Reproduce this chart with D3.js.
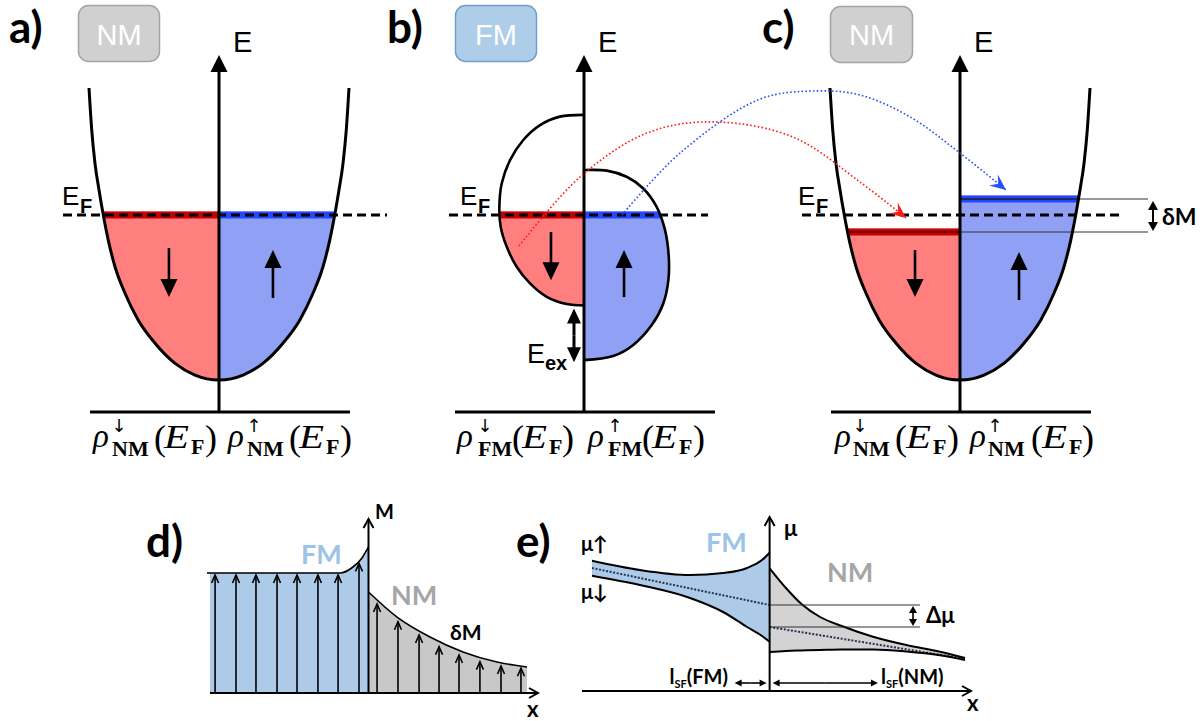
<!DOCTYPE html>
<html>
<head>
<meta charset="utf-8">
<title>Spin injection across an FM/NM interface</title>
<script src="https://cdn.jsdelivr.net/npm/d3@7"></script>
<style>
  html, body { margin: 0; padding: 0; background: #fff; }
  svg { display: block; }
</style>
</head>
<body>
<svg id="fig" width="1203" height="721"></svg>
<script>
// ================= data =================
// Panels a–c: free-electron band, density of states (rho) vs energy.
// Energy runs from the band bottom (0) to the top of the drawn band (1).
const bandE   = [0, 0.017, 0.057, 0.126, 0.205, 0.297, 0.388, 0.479, 0.565, 0.651, 0.742, 0.856, 1];
const bandRho = [0, 0.185, 0.338, 0.492, 0.621, 0.723, 0.800, 0.852, 0.890, 0.923, 0.954, 0.979, 1];
const fermiE  = 0.565;

// Panel b: exchange-split ferromagnet DOS (spin-down lobe on the left, spin-up on the right)
const fmDownE   = [0.908, 0.902, 0.873, 0.822, 0.753, 0.673, 0.593, 0.525, 0.457, 0.388, 0.331, 0.285, 0.260, 0.255];
const fmDownRho = [0, 0.185, 0.338, 0.467, 0.569, 0.633, 0.651, 0.641, 0.595, 0.518, 0.415, 0.287, 0.133, 0];
const fmUpE     = [0.719, 0.717, 0.696, 0.656, 0.593, 0.514, 0.422, 0.342, 0.262, 0.188, 0.120, 0.082, 0.068];
const fmUpRho   = [0, 0.175, 0.328, 0.456, 0.559, 0.623, 0.652, 0.649, 0.610, 0.521, 0.379, 0.225, 0];

// Panel c: spin-split quasi-Fermi levels in the normal metal
const nmUpE   = 0.620;
const nmDownE = 0.507;

// Spin arrows inside the filled states: [rho, E start, E end]
const spinArrowsA = [[-0.385, 0.452, 0.284], [0.415, 0.281, 0.445]];
const spinArrowsB = [[-0.254, 0.507, 0.342], [0.308, 0.284, 0.445]];
const spinArrowsC = [[-0.346, 0.445, 0.284], [0.454, 0.274, 0.438]];

// Electron transfer FM -> NM, in panel-b DOS units
const hopDownRho = [-0.50, -0.031, 0.485, 0.992, 1.608, 2.123, 2.477];
const hopDownE   = [0.459, 0.695, 0.846, 0.884, 0.832, 0.678, 0.555];
const hopUpRho   = [0.292, 0.738, 1.354, 1.792, 2.123, 2.508, 2.892, 3.246];
const hopUpE     = [0.565, 0.777, 0.962, 0.990, 0.976, 0.901, 0.777, 0.651];

// Panel d: magnetisation profile, interface at x = 0
const magFMx = [-1, -0.5, -0.18, -0.098, -0.041, 0];
const magFM  = [1, 1, 1, 1.05, 1.125, 1.217];
const magNMx = [0, 0.18, 0.388, 0.596, 0.811, 1];
const magNM  = [0.842, 0.633, 0.467, 0.342, 0.258, 0.217];
const momentX = [-0.968, -0.836, -0.710, -0.577, -0.451, -0.319, -0.192, -0.060,
                  0.054, 0.186, 0.319, 0.445, 0.571, 0.703, 0.836, 0.962];
const momentM = [0.983, 0.983, 0.983, 0.983, 0.983, 0.983, 0.983, 1.08,
                 0.742, 0.594, 0.483, 0.386, 0.317, 0.261, 0.225, 0.206];

// Panel e: spin-resolved electrochemical potentials
const muFMx    = [-1, -0.73, -0.448, -0.262, -0.127, -0.043, 0];
const muUpFM   = [1.303, 1.21, 1.16, 1.18, 1.23, 1.31, 1.383];
const muDownFM = [1.153, 1.06, 0.93, 0.79, 0.64, 0.55, 0.493];
const muNMx    = [0, 0.092, 0.181, 0.284, 0.406, 0.582, 0.770, 0.959, 1.1];
const muUpNM   = [1.227, 1.03, 0.867, 0.74, 0.65, 0.543, 0.46, 0.393, 0.33];
const muDownNM = [0.39, 0.40, 0.405, 0.41, 0.415, 0.415, 0.395, 0.357, 0.31];
const muAvgFM  = [[-1, 1.23], [0, 0.86]];
const muAvgNM  = [[0, 0.64], [1.1, 0.322]];
const lsfFM = 0.197, lsfNM = 0.61;

// ================= drawing =================
const svg = d3.select('#fig');
svg.append('rect').attr('width', 1203).attr('height', 721).attr('fill', '#fff');
const defs = svg.append('defs');

const COL = {
  red: '#ff7f7f', redBand: '#c40000', redLine: '#7a0000',
  blue: '#8fa0f5', blueBand: '#2448ff', blueLine: '#0a1a9a',
  fmFill: '#adcbe9', fmText: '#9dc3e6',
  nmText: '#a6a6a6', grayD: '#c8c8c8', grayE: '#d3d3d3',
  hopRed: '#ff1a1a', hopBlue: '#2a4dff'
};
const SANS = "'Liberation Sans', Arial, sans-serif";
const BOLD = "Lato, 'Open Sans', 'DejaVu Sans', sans-serif";
const SERIF = "'Liberation Serif', 'DejaVu Serif', serif";

function txt(g, x, y, s, o = {}) {
  return g.append('text').attr('x', x).attr('y', y).text(s)
    .attr('font-family', o.family || SANS).attr('font-size', o.size || 20)
    .attr('font-weight', o.weight || 'normal').attr('font-style', o.style || 'normal')
    .attr('fill', o.fill || '#000').attr('text-anchor', o.anchor || 'start');
}

let clipN = 0;
function clipTo(x0, y0, x1, y1) {
  const id = 'clip' + (clipN++);
  defs.append('clipPath').attr('id', id).append('rect')
    .attr('x', x0).attr('y', y0).attr('width', x1 - x0).attr('height', y1 - y0);
  return `url(#${id})`;
}
function fillPart(g, d, x0, y0, x1, y1, fill) {
  g.append('path').attr('d', d).attr('fill', fill).attr('clip-path', clipTo(x0, y0, x1, y1));
}

// straight arrow with a filled triangular head
function sArrow(g, x1, y1, x2, y2, o = {}) {
  const len = o.len || 10, wid = o.wid || 10, sw = o.sw || 2, c = o.color || '#000';
  const dx = x2 - x1, dy = y2 - y1, L = Math.hypot(dx, dy), ux = dx / L, uy = dy / L;
  const bx = x2 - ux * len, by = y2 - uy * len;
  g.append('line').attr('x1', x1).attr('y1', y1).attr('x2', bx + ux).attr('y2', by + uy)
    .attr('stroke', c).attr('stroke-width', sw);
  g.append('path').attr('fill', c)
    .attr('d', `M${x2},${y2}L${bx - uy * wid / 2},${by + ux * wid / 2}L${bx + uy * wid / 2},${by - ux * wid / 2}Z`);
}
function dArrow(g, x1, y1, x2, y2, o) {
  const mx = (x1 + x2) / 2, my = (y1 + y2) / 2;
  sArrow(g, mx, my, x1, y1, o);
  sArrow(g, mx, my, x2, y2, o);
}
// arrow with an open (chevron) head
function vArrow(g, x1, y1, x2, y2, o = {}) {
  const len = o.len || 8, wid = o.wid || 8, sw = o.sw || 1.5;
  const dx = x2 - x1, dy = y2 - y1, L = Math.hypot(dx, dy), ux = dx / L, uy = dy / L;
  const bx = x2 - ux * len, by = y2 - uy * len;
  g.append('line').attr('x1', x1).attr('y1', y1).attr('x2', x2).attr('y2', y2)
    .attr('stroke', '#000').attr('stroke-width', sw);
  g.append('path').attr('fill', 'none').attr('stroke', '#000').attr('stroke-width', sw)
    .attr('stroke-linejoin', 'miter')
    .attr('d', `M${bx - uy * wid / 2},${by + ux * wid / 2}L${x2},${y2}L${bx + uy * wid / 2},${by - ux * wid / 2}`);
}

// ---------- panels a–c ----------
const yBand = d3.scaleLinear().domain([0, 1]).range([380, 88]);
const rhoX = ax => d3.scaleLinear().domain([-1, 1]).range([ax - 130, ax + 130]);
const smooth = d3.curveCatmullRom.alpha(0.5);
const dosPath = (xs, pts, curve) => d3.line().x(d => xs(d[0])).y(d => yBand(d[1])).curve(curve || smooth)(pts);

// full band outline, left top -> bottom -> right top (monotone in rho)
const bandPts = [
  ...bandRho.map((r, i) => [-r, bandE[i]]).reverse(),
  ...bandRho.map((r, i) => [r, bandE[i]]).slice(1)
];

function occupy(g, shapeD, x0, x1, level, fillCol, bandCol, lineCol) {
  const yl = yBand(level);
  fillPart(g, shapeD, x0, yl - 3.5, x1, 430, fillCol);
  fillPart(g, shapeD, x0, yl - 3.5, x1, yl + 3.5, bandCol);
  if (lineCol) fillPart(g, shapeD, x0, yl - 1, x1, yl + 1, lineCol);
}
function dashedEF(g, x0, x1) {
  g.append('line').attr('x1', x0).attr('x2', x1).attr('y1', yBand(fermiE)).attr('y2', yBand(fermiE))
    .attr('stroke', '#000').attr('stroke-width', 3).attr('stroke-dasharray', '9,5');
}
function efLabel(g, x) {
  txt(g, x, 205, 'E', { size: 26 });
  txt(g, x + 18, 213, 'F', { size: 20, weight: 'bold' });
}
function energyAxis(g, ax) {
  const xs = rhoX(ax);
  g.append('line').attr('x1', xs(-1) + 1).attr('x2', xs(1) + 1).attr('y1', 412).attr('y2', 412)
    .attr('stroke', '#000').attr('stroke-width', 3);
  g.append('line').attr('x1', ax).attr('x2', ax).attr('y1', 413).attr('y2', 70)
    .attr('stroke', '#000').attr('stroke-width', 3);
  g.append('path').attr('d', `M${ax - 8.5},72L${ax},55L${ax + 8.5},72Z`).attr('fill', '#000');
  txt(g, ax + 14, 52, 'E', { size: 29 });
}
function spinArrows(g, xs, list) {
  list.forEach(([r, e0, e1]) => sArrow(g, xs(r), yBand(e0), xs(r), yBand(e1), { len: 18, wid: 17, sw: 2.6 }));
}
function dosLabel(ax, sub, offs) {
  ['↓', '↑'].forEach((arrow, k) => {
    const [oR, oS, oP, oE, oF, oQ] = offs[k];
    txt(svg, ax + oR, 447, 'ρ', { family: SERIF, size: 33, style: 'italic' });
    txt(svg, ax + oS + 7, 432, arrow, { family: "'DejaVu Sans', sans-serif", size: 18, anchor: 'middle' });
    txt(svg, ax + oS, 456, sub, { family: SERIF, size: 22, weight: 'bold' });
    txt(svg, ax + oP, 450, '(', { family: SERIF, size: 36 });
    txt(svg, ax + oE, 448, 'E', { family: SERIF, size: 33, style: 'italic' })
      .attr('textLength', 25).attr('lengthAdjust', 'spacingAndGlyphs');
    txt(svg, ax + oF, 454, 'F', { family: SERIF, size: 22, weight: 'bold' });
    txt(svg, ax + oQ, 450, ')', { family: SERIF, size: 36 });
  });
}
function matBox(x, y, w, fill, stroke, label) {
  svg.append('rect').attr('x', x).attr('y', y).attr('width', w).attr('height', 56).attr('rx', 10)
    .attr('fill', fill).attr('stroke', stroke).attr('stroke-width', 1.5);
  txt(svg, x + w / 2, 45, label, { size: 29, fill: '#fff', anchor: 'middle' });
}
function panelLetter(x, y, s) { txt(svg, x, y, s, { family: BOLD, size: 44, weight: 'bold' }); }

// --- a) normal metal in equilibrium
const axA = 219, xa = rhoX(axA), gA = svg.append('g');
const bandA = dosPath(xa, bandPts, d3.curveMonotoneX);
occupy(gA, bandA + 'Z', xa(-1.3), axA, fermiE, COL.red, COL.redBand);
occupy(gA, bandA + 'Z', axA, xa(1.3), fermiE, COL.blue, COL.blueBand);
dashedEF(gA, 63, 387);
gA.append('path').attr('d', bandA).attr('fill', 'none').attr('stroke', '#000').attr('stroke-width', 3);
energyAxis(gA, axA);
spinArrows(gA, xa, spinArrowsA);
efLabel(gA, 62);
panelLetter(9, 43, 'a)');
matBox(78.5, 5.5, 81, '#d0d0d0', '#a5a5a5', 'NM');
dosLabel(axA, 'NM', [[-126, -107, -65, -55, -28, -14], [9, 28, 70, 80, 107, 121]]);

// --- b) ferromagnet
const axB = 584, xb = rhoX(axB), gB = svg.append('g');
const downB = dosPath(xb, fmDownRho.map((r, i) => [-r, fmDownE[i]]));
const upB = dosPath(xb, fmUpRho.map((r, i) => [r, fmUpE[i]]));
occupy(gB, downB + 'Z', xb(-1), axB, fermiE, COL.red, COL.redBand);
occupy(gB, upB + 'Z', axB, xb(1), fermiE, COL.blue, COL.blueBand);
dashedEF(gB, 449, 708);
[downB, upB].forEach(d => gB.append('path').attr('d', d).attr('fill', 'none')
  .attr('stroke', '#000').attr('stroke-width', 2.6));
energyAxis(gB, axB);
spinArrows(gB, xb, spinArrowsB);
dArrow(gB, xb(-0.077), yBand(fmDownE[fmDownE.length - 1]) + 3, xb(-0.077), yBand(fmUpE[fmUpE.length - 1]) + 2,
  { len: 15, wid: 14, sw: 3 });
txt(gB, 527, 363, 'E', { size: 27 });
txt(gB, 545, 370, 'ex', { size: 20, weight: 'bold' });
efLabel(gB, 460);
panelLetter(387, 43, 'b)');
matBox(455.5, 5.5, 81, '#aecde8', '#6f9fcb', 'FM');
dosLabel(axB, 'FM', [[-127, -106, -72, -62, -35, -22], [4, 24, 58, 68, 95, 109]]);

// --- c) normal metal with spin accumulation
const axC = 960, xc = rhoX(axC), gC = svg.append('g');
const bandC = dosPath(xc, bandPts, d3.curveMonotoneX);
occupy(gC, bandC + 'Z', xc(-1.3), axC, nmDownE, COL.red, COL.redBand, COL.redLine);
occupy(gC, bandC + 'Z', axC, xc(1.3), nmUpE, COL.blue, COL.blueBand, COL.blueLine);
[nmUpE, nmDownE].forEach(e => gC.append('line').attr('x1', axC).attr('x2', 1148)
  .attr('y1', yBand(e)).attr('y2', yBand(e)).attr('stroke', '#333').attr('stroke-width', 1.1));
dashedEF(gC, 802, 1124);
gC.append('path').attr('d', bandC).attr('fill', 'none').attr('stroke', '#000').attr('stroke-width', 3);
energyAxis(gC, axC);
spinArrows(gC, xc, spinArrowsC);
dArrow(gC, 1153, yBand(nmUpE) + 2, 1153, yBand(nmDownE) - 1, { len: 9, wid: 10, sw: 2 });
txt(gC, 1162, 225, 'δM', { family: BOLD, size: 23, weight: 'bold' });
efLabel(gC, 798);
panelLetter(762, 43, 'c)');
matBox(830.5, 6.5, 82, '#d0d0d0', '#a5a5a5', 'NM');
dosLabel(axC, 'NM', [[-125, -107, -65, -54, -27, -13], [10, 28, 71, 82, 109, 122]]);

// --- electron transfer from the FM into the NM
function hop(rhos, es, color) {
  const pts = rhos.map((r, i) => [xb(r), yBand(es[i])]);
  svg.append('path').attr('d', d3.line().curve(smooth)(pts)).attr('fill', 'none')
    .attr('stroke', color).attr('stroke-width', 1.6).attr('stroke-dasharray', '1.6,2.2');
  const [x2, y2] = pts[pts.length - 1], [x1, y1] = pts[pts.length - 2];
  const L = Math.hypot(x2 - x1, y2 - y1), ux = (x2 - x1) / L, uy = (y2 - y1) / L;
  const len = 16, wid = 14, bx = x2 - ux * len, by = y2 - uy * len, nx = x2 - ux * len * 0.62, ny = y2 - uy * len * 0.62;
  svg.append('path').attr('fill', color)
    .attr('d', `M${x2},${y2}L${bx - uy * wid / 2},${by + ux * wid / 2}L${nx},${ny}L${bx + uy * wid / 2},${by - ux * wid / 2}Z`);
}
hop(hopDownRho, hopDownE, COL.hopRed);
hop(hopUpRho, hopUpE, COL.hopBlue);

// ---------- panel d: magnetisation ----------
const gD = svg.append('g');
const xD = d3.scaleLinear().domain([-1, 1]).range([210, 527]);
const yD = d3.scaleLinear().domain([0, 1]).range([693, 573]);
const fmD = magFMx.map((x, i) => [x, magFM[i]]);
const nmD = magNMx.map((x, i) => [x, magNM[i]]);
const areaD = d3.area().x(d => xD(d[0])).y0(yD(0)).y1(d => yD(d[1])).curve(d3.curveMonotoneX);
const lineD = d3.line().x(d => xD(d[0])).y(d => yD(d[1])).curve(d3.curveMonotoneX);
gD.append('path').attr('d', areaD(fmD)).attr('fill', COL.fmFill);
gD.append('path').attr('d', areaD(nmD)).attr('fill', COL.grayD);
[fmD, nmD].forEach(p => gD.append('path').attr('d', lineD(p)).attr('fill', 'none')
  .attr('stroke', '#000').attr('stroke-width', 1.6));
gD.append('line').attr('x1', xD(-1) - 3).attr('x2', xD(-1)).attr('y1', yD(1)).attr('y2', yD(1))
  .attr('stroke', '#000').attr('stroke-width', 1.6);
momentX.forEach((x, i) => vArrow(gD, xD(x), yD(0), xD(x), yD(momentM[i]), { len: 8, wid: 7, sw: 1.6 }));
vArrow(gD, xD(-1), yD(0), 538, yD(0), { len: 9, wid: 10, sw: 2 });
vArrow(gD, xD(0), yD(0), xD(0), 519, { len: 9, wid: 10, sw: 2 });
txt(gD, 375, 519, 'M', { family: BOLD, size: 20, weight: 'bold' });
txt(gD, 301, 564, 'FM', { family: BOLD, size: 27, weight: 'bold', fill: COL.fmText });
txt(gD, 391, 605, 'NM', { family: BOLD, size: 27, weight: 'bold', fill: COL.nmText });
txt(gD, 450, 640, 'δM', { family: BOLD, size: 21, weight: 'bold' });
txt(gD, 527, 717, 'x', { family: BOLD, size: 22, weight: 'bold' });
panelLetter(146, 557, 'd)');

// ---------- panel e: electrochemical potentials ----------
const gE = svg.append('g');
const xE = d3.scaleLinear().domain([-1, 1.1]).range([592, 965]);
const yE = d3.scaleLinear().domain([0, 1]).range([691, 591]);
const areaE = (xsArr, lo, hi) => d3.area().x((d, i) => xE(xsArr[i])).y0((d, i) => yE(lo[i]))
  .y1((d, i) => yE(hi[i])).curve(d3.curveMonotoneX)(xsArr);
const lineE = (xsArr, v) => d3.line().x((d, i) => xE(xsArr[i])).y((d, i) => yE(v[i]))
  .curve(d3.curveMonotoneX)(xsArr);
gE.append('path').attr('d', areaE(muFMx, muDownFM, muUpFM)).attr('fill', COL.fmFill);
gE.append('path').attr('d', areaE(muNMx, muDownNM, muUpNM)).attr('fill', COL.grayE);
[muAvgFM, muAvgNM].forEach(p => gE.append('line')
  .attr('x1', xE(p[0][0])).attr('y1', yE(p[0][1])).attr('x2', xE(p[1][0])).attr('y2', yE(p[1][1]))
  .attr('stroke', '#26324a').attr('stroke-width', 2).attr('stroke-dasharray', '2,1.6'));
[[muFMx, muUpFM], [muFMx, muDownFM], [muNMx, muUpNM], [muNMx, muDownNM]].forEach(([xa_, v]) =>
  gE.append('path').attr('d', lineE(xa_, v)).attr('fill', 'none').attr('stroke', '#000').attr('stroke-width', 2));
// splitting of the average potentials at the interface
const muHi = muAvgFM[1][1], muLo = muAvgNM[0][1];
[muHi, muLo].forEach(m => gE.append('line').attr('x1', xE(0)).attr('x2', 920).attr('y1', yE(m)).attr('y2', yE(m))
  .attr('stroke', '#333').attr('stroke-width', 1.1));
dArrow(gE, 913, yE(muHi) + 1, 913, yE(muLo) - 1, { len: 7, wid: 8, sw: 1.6 });
txt(gE, 926, 623, 'Δμ', { family: BOLD, size: 22, weight: 'bold' });
vArrow(gE, 582, yE(0), 971, yE(0), { len: 9, wid: 10, sw: 2 });
vArrow(gE, xE(0), yE(0), xE(0), 517, { len: 9, wid: 10, sw: 2 });
txt(gE, 784, 536, 'μ', { family: BOLD, size: 22, weight: 'bold' });
txt(gE, 581, 551, 'μ↑', { family: BOLD, size: 20, weight: 'bold' });
txt(gE, 581, 599, 'μ↓', { family: BOLD, size: 20, weight: 'bold' });
txt(gE, 706, 552, 'FM', { family: BOLD, size: 27, weight: 'bold', fill: COL.fmText });
txt(gE, 827, 582, 'NM', { family: BOLD, size: 27, weight: 'bold', fill: COL.nmText });
txt(gE, 967, 711, 'x', { family: BOLD, size: 22, weight: 'bold' });
// spin-diffusion lengths
const yL = 683;
dArrow(gE, xE(-lsfFM), yL, xE(0) - 3, yL, { len: 7, wid: 7, sw: 1.6 });
dArrow(gE, xE(0) + 3, yL, xE(lsfNM), yL, { len: 7, wid: 7, sw: 1.6 });
function lsf(x, anchor, name) {
  const t = txt(gE, x, yL + 1, 'l', { family: BOLD, size: 20, weight: 'bold', anchor });
  t.append('tspan').attr('font-size', 11).attr('dy', 4).text('SF');
  t.append('tspan').attr('dy', -4).text('(' + name + ')');
}
lsf(728, 'end', 'FM');
lsf(881, 'start', 'NM');
panelLetter(516, 557, 'e)');
</script>
</body>
</html>
